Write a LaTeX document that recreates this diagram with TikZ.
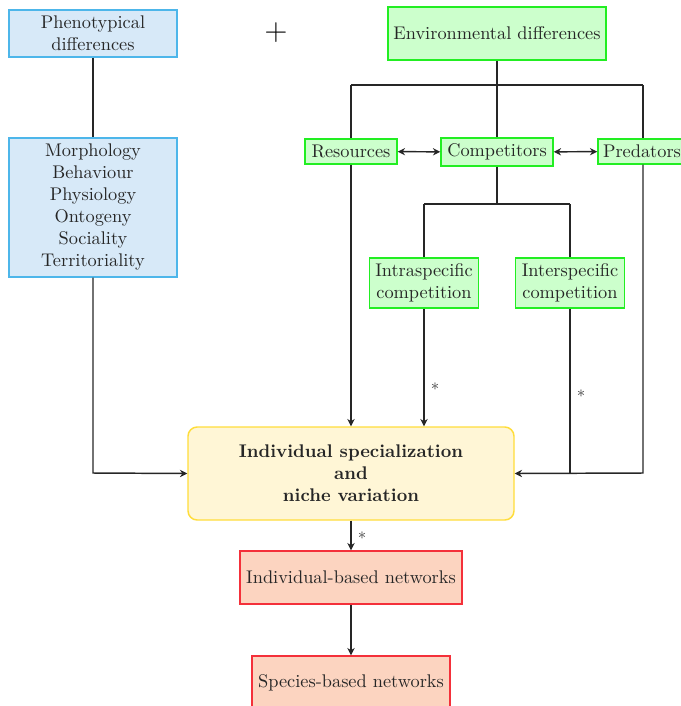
\documentclass[tikz,border=0pt]{standalone}
\usetikzlibrary{arrows.meta,positioning}
\newcommand\pxu{0.5455pt}
\definecolor{bluefill}{HTML}{D7E9F8}
\definecolor{bluedraw}{HTML}{4DB6EA}
\definecolor{greenfill}{HTML}{CCFFCC}
\definecolor{greendraw}{HTML}{22EE22}
\definecolor{yellowfill}{HTML}{FFF6D6}
\definecolor{yellowdraw}{HTML}{FFDD3A}
\definecolor{redfill}{HTML}{FCD4C0}
\definecolor{reddraw}{HTML}{F4303A}
\begin{document}
\begin{tikzpicture}[x=\pxu,y=-\pxu,
  box/.style={rectangle,align=center,inner sep=2pt,thick,text=black!85},
  bluebox/.style={box,fill=bluefill,draw=bluedraw},
  greenbox/.style={box,fill=greenfill,draw=greendraw},
  yellowbox/.style={box,fill=yellowfill,draw=yellowdraw,rounded corners=5pt,font=\bfseries},
  redbox/.style={box,fill=redfill,draw=reddraw},
  conn/.style={thick,black!85},
  arr/.style={conn,-{Stealth[length=4pt,width=4pt]}},
  darr/.style={conn,{Stealth[length=4pt,width=4pt]}-{Stealth[length=4pt,width=4pt]}},
  star/.style={font=\small,text=black!75}]
\useasboundingbox (0,0) rectangle (681,706);

\node[bluebox,minimum width=168*\pxu,minimum height=47*\pxu] (phen) at (93,33.5) {Phenotypical\\differences};
\node[bluebox,minimum width=168*\pxu,minimum height=139*\pxu] (morph) at (93,207.5) {Morphology\\Behaviour\\Physiology\\Ontogeny\\Sociality\\Territoriality};
\node[font=\LARGE] (plus) at (276,33) {$+$};

\node[greenbox,minimum width=218*\pxu,minimum height=53*\pxu] (env) at (497,33.5) {Environmental differences};
\node[greenbox,minimum width=92*\pxu,minimum height=25*\pxu] (res) at (351,151.5) {Resources};
\node[greenbox,minimum width=112*\pxu,minimum height=28*\pxu] (comp) at (497,152) {Competitors};
\node[greenbox,minimum width=88*\pxu,minimum height=25*\pxu] (pred) at (642,151.5) {Predators};
\node[greenbox,minimum width=109*\pxu,minimum height=50*\pxu] (intra) at (424,283) {Intraspecific\\competition};
\node[greenbox,minimum width=109*\pxu,minimum height=50*\pxu] (inter) at (570,283) {Interspecific\\competition};

\node[yellowbox,minimum width=326*\pxu,minimum height=93*\pxu] (isnv) at (351,473.5) {Individual specialization\\and\\niche variation};
\node[redbox,minimum width=222*\pxu,minimum height=53*\pxu] (ibn) at (351,577.5) {Individual-based networks};
\node[redbox,minimum width=198*\pxu,minimum height=53*\pxu] (sbn) at (351,682.5) {Species-based networks};

\coordinate (envhub) at (497,85);
\coordinate (resc) at (351,85);
\coordinate (predc) at (643,85);
\coordinate (comphub) at (497,204);
\coordinate (intrac) at (424,204);
\coordinate (interc) at (570,204);
\coordinate (morphc) at (93,473);
\coordinate (interj) at (570,473);
\coordinate (predj) at (643,473);

\draw[conn] (phen) -- (morph);
\draw[arr] (morph.south) -- (morphc) -- (isnv.west);

\draw[conn] (env.south) -- (envhub) -- (comp.north);
\draw[conn] (resc) -- (predc);
\draw[conn] (resc) -- (res.north);
\draw[conn] (predc) -- (predc |- pred.north);
\draw[darr] (res) -- (comp);
\draw[darr] (comp) -- (pred);

\draw[conn] (comp.south) -- (comphub);
\draw[conn] (intrac) -- (interc);
\draw[conn] (intrac) -- (intra.north);
\draw[conn] (interc) -- (inter.north);

\draw[arr] (res.south) -- (res.south |- isnv.north);
\draw[arr] (intra.south) -- node[star,right,pos=0.66] {$*$} (intra.south |- isnv.north);
\draw[conn] (inter.south) -- node[star,right,pos=0.52] {$*$} (interj);
\draw[arr] (predc |- pred.south) -- (predj) -- (isnv.east);

\draw[arr] (isnv) -- node[star,right] {$*$} (ibn);
\draw[arr] (ibn) -- (sbn);
\end{tikzpicture}
\end{document}
